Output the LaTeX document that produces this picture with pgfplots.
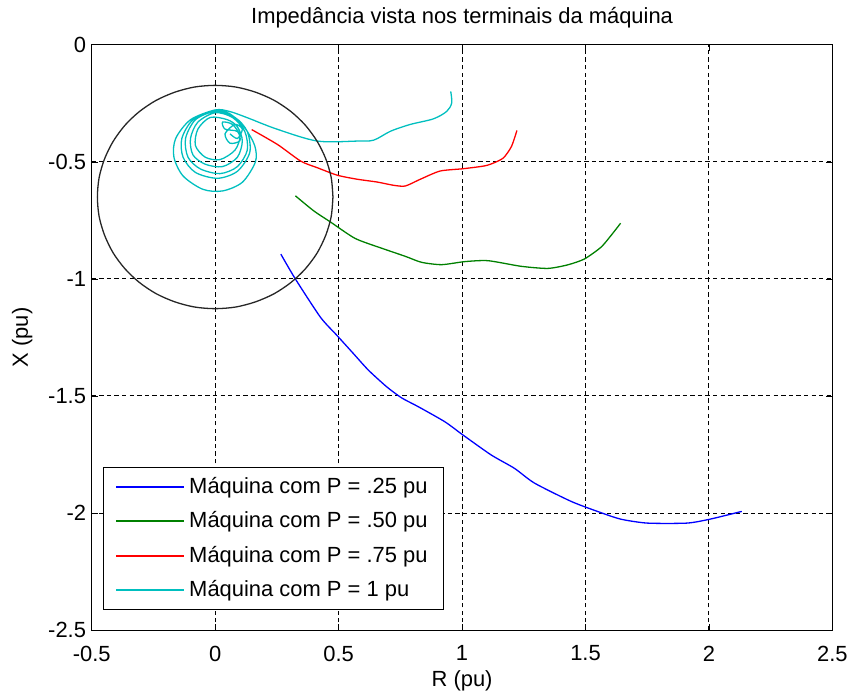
\documentclass[border=0pt]{standalone}
\usepackage{pgfplots}
\pgfplotsset{compat=1.18}
\usepackage{fontspec}
\setmainfont{Liberation Sans}
\definecolor{mblue}{rgb}{0,0,1}
\definecolor{mgreen}{rgb}{0,0.5,0}
\definecolor{mred}{rgb}{1,0,0}
\definecolor{mcyan}{rgb}{0,0.75,0.75}
\begin{document}
\fontsize{11bp}{13bp}\selectfont
\begin{tikzpicture}
\begin{axis}[
  name=ax,
  width=371.5bp, height=293.5bp, scale only axis,
  xmin=-0.5, xmax=2.5, ymin=-2.5, ymax=0,
  xtick={-0.5,0,0.5,1,1.5,2,2.5},
  ytick={-2.5,-2,-1.5,-1,-0.5,0},
  xticklabels={-0.5,0,0.5,1,1.5,2,2.5},
  yticklabels={-2.5,-2,-1.5,-1,-0.5,0},
  tick align=inside, tick pos=both,
  major tick length=3bp,
  tick style={black, line width=0.4bp},
  axis line style={black, line width=0.5bp},
  grid=major,
  major grid style={black, dash pattern=on 2.2bp off 1.6bp, line width=0.5bp},
  title={Impedância vista nos terminais da máquina},
  every axis title/.style={at={(axis description cs:0.5,1.046)}, anchor=center},
  xlabel={R (pu)}, ylabel={X (pu)},
  every axis x label/.style={at={(axis description cs:0.5,-0.087)}, anchor=center},
  every axis y label/.style={at={(axis description cs:-0.094,0.5)}, rotate=90, anchor=center},
  ticklabel style={font=\fontsize{11bp}{13bp}\selectfont},
  yticklabel style={xshift=1bp},
  xticklabel style={yshift=-4bp},
  /pgf/number format/assume math mode=true,
  legend style={at={(0.015,0.034)}, anchor=south west, draw=black, line width=0.5bp,
    font=\fontsize{11bp}{13bp}\selectfont, row sep=3.5bp, inner xsep=6bp, inner ysep=3bp},
  legend cell align=left,
  legend image code/.code={\draw[#1, line width=1.1bp] (0bp,0bp) -- (34bp,0bp);},
  every axis plot/.append style={line width=0.65bp},
]
% P = .25
\addplot[mblue, smooth, tension=0.4] coordinates {
(0.266,-0.894) (0.323,-0.997) (0.426,-1.163) (0.493,-1.241) (0.560,-1.319) (0.621,-1.390)
(0.695,-1.461) (0.755,-1.508) (0.823,-1.546) (0.930,-1.610) (1.004,-1.667) (1.118,-1.752)
(1.212,-1.809) (1.293,-1.872) (1.441,-1.950) (1.548,-1.993) (1.642,-2.026) (1.750,-2.043)
(1.911,-2.043) (2.005,-2.026) (2.133,-1.993)};
\addlegendentry{Máquina com P = .25 pu}
% P = .50
\addplot[mgreen, smooth, tension=0.4] coordinates {
(0.325,-0.645) (0.399,-0.709) (0.466,-0.756) (0.567,-0.827) (0.675,-0.869) (0.769,-0.903)
(0.836,-0.929) (0.917,-0.939) (1.011,-0.926) (1.105,-0.922) (1.239,-0.946) (1.347,-0.955)
(1.427,-0.940) (1.495,-0.915) (1.562,-0.865) (1.602,-0.816) (1.642,-0.762)};
\addlegendentry{Máquina com P = .50 pu}
% P = .75
\addplot[mred, smooth, tension=0.4] coordinates {
(0.148,-0.362) (0.253,-0.426) (0.347,-0.497) (0.414,-0.525) (0.495,-0.557) (0.575,-0.574)
(0.656,-0.586) (0.723,-0.600) (0.770,-0.603) (0.831,-0.574) (0.911,-0.539) (1.005,-0.529)
(1.100,-0.515) (1.165,-0.485) (1.200,-0.434) (1.222,-0.366)};
\addlegendentry{Máquina com P = .75 pu}
% P = 1
\addplot[mcyan, smooth, tension=0.5] coordinates {
(0.954,-0.199) (0.958,-0.248) (0.938,-0.284) (0.884,-0.316) (0.790,-0.340) (0.710,-0.369)
(0.642,-0.407) (0.575,-0.411) (0.414,-0.411) (0.250,-0.360) (0.132,-0.312)
(0.06,-0.285) (0.0,-0.278) (-0.10,-0.32) (-0.16,-0.40) (-0.167,-0.48) (-0.13,-0.56)
(-0.05,-0.617) (0.03,-0.624) (0.11,-0.587) (0.163,-0.50) (0.16,-0.43) (0.12,-0.355) (0.06,-0.295)
(0.0,-0.282) (-0.09,-0.32) (-0.135,-0.40) (-0.13,-0.48) (-0.08,-0.545) (0.01,-0.57)
(0.09,-0.54) (0.14,-0.46) (0.13,-0.37) (0.08,-0.31)
(0.0,-0.285) (-0.08,-0.32) (-0.12,-0.40) (-0.11,-0.48) (-0.06,-0.53) (0.02,-0.55)
(0.09,-0.52) (0.13,-0.45) (0.12,-0.37) (0.07,-0.31)
(0.0,-0.29) (-0.07,-0.33) (-0.10,-0.40) (-0.09,-0.47) (-0.04,-0.51) (0.03,-0.52)
(0.09,-0.48) (0.11,-0.41) (0.09,-0.35) (0.05,-0.32)
(-0.02,-0.31) (-0.07,-0.36) (-0.08,-0.43) (-0.04,-0.48) (0.02,-0.49) (0.08,-0.45)
(0.10,-0.39) (0.07,-0.34)
(0.03,-0.33) (0.04,-0.36) (0.09,-0.37) (0.10,-0.41) (0.06,-0.42) (0.04,-0.38)
(0.08,-0.34) (0.11,-0.36) (0.09,-0.40) (0.06,-0.38)};
\addlegendentry{Máquina com P = 1 pu}
% circle
\addplot[black!85, smooth] coordinates {
(0.477,-0.65) (0.470,-0.567) (0.448,-0.487) (0.413,-0.412) (0.365,-0.343) (0.307,-0.285)
(0.239,-0.237) (0.163,-0.202) (0.083,-0.180) (0,-0.173) (-0.083,-0.180) (-0.163,-0.202)
(-0.239,-0.237) (-0.307,-0.285) (-0.365,-0.343) (-0.413,-0.412) (-0.448,-0.487) (-0.470,-0.567)
(-0.477,-0.65) (-0.470,-0.733) (-0.448,-0.813) (-0.413,-0.889) (-0.365,-0.957) (-0.307,-1.015)
(-0.239,-1.063) (-0.163,-1.098) (-0.083,-1.120) (0,-1.127) (0.083,-1.120) (0.163,-1.098)
(0.239,-1.063) (0.307,-1.015) (0.365,-0.957) (0.413,-0.889) (0.448,-0.813) (0.470,-0.733)
(0.477,-0.65)};
\end{axis}
\path (ax.south west) ++(-46bp,-33.5bp);
\path (ax.north east) ++(10bp,22.5bp);
\end{tikzpicture}
\end{document}
